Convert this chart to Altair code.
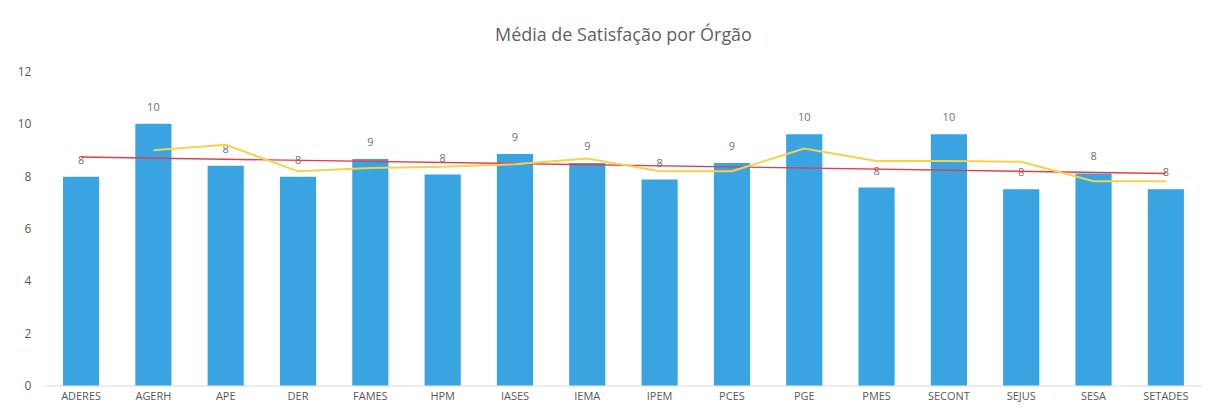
import altair as alt
import pandas as pd

orgs = ["ADERES", "AGERH", "APE", "DER", "FAMES", "HPM", "IASES", "IEMA",
        "IPEM", "PCES", "PGE", "PMES", "SECONT", "SEJUS", "SESA", "SETADES"]
values = [7.97, 10.0, 8.39, 7.97, 8.65, 8.06, 8.84, 8.5,
          7.87, 8.5, 9.6, 7.56, 9.6, 7.5, 8.1, 7.5]
y_ticks = [0, 2, 4, 6, 8, 10, 12]
title_text = "Média de Satisfação por Órgão"

df = pd.DataFrame({"org": orgs, "value": values, "idx": list(range(len(orgs)))})

FONT = "Open Sans"
GRAY = "#595959"

x_enc = alt.X("org:N", sort=orgs,
              scale=alt.Scale(paddingInner=0.5, paddingOuter=0.25),
              axis=alt.Axis(title=None, labelAngle=0, labelFont=FONT, labelFontSize=11,
                            labelColor=GRAY, ticks=False, domainColor="#d9d9d9",
                            labelPadding=5))
y_enc = alt.Y("value:Q", scale=alt.Scale(domain=[0, 12], nice=False),
              axis=alt.Axis(title=None, values=y_ticks, grid=False, domain=False,
                            ticks=False, labelFont=FONT, labelFontSize=12,
                            labelColor=GRAY, labelPadding=14))

base = alt.Chart(df)

bars = base.mark_bar(color="#3AA3E1").encode(x=x_enc, y=y_enc)

labels = base.mark_text(dy=-16, font=FONT, fontSize=11, color="#6f6f6f").encode(
    x=alt.X("org:N", sort=orgs), y="value:Q", text=alt.Text("value:Q", format=".0f"))

trend = base.transform_regression("idx", "value").transform_lookup(
    lookup="idx", from_=alt.LookupData(data=df, key="idx", fields=["org"])
).mark_line(color="#E0404A", strokeWidth=1.4).encode(
    x=alt.X("org:N", sort=orgs), y="value:Q")

ma = base.transform_window(
    ma="mean(value)", frame=[-1, 0], sort=[alt.SortField("idx")]
).transform_filter("datum.idx >= 1").mark_line(color="#F5D24A", strokeWidth=2).encode(
    x=alt.X("org:N", sort=orgs), y="ma:Q")

chart = alt.layer(bars, labels, trend, ma).properties(
    width=1160, height=315,
    autosize=alt.AutoSizeParams(type="none"),
    padding={"left": 37, "top": 63, "right": 0, "bottom": 16},
    title=alt.TitleParams(title_text, font=FONT, fontSize=18, fontWeight="normal",
                          color="#5f5f5f", anchor="middle", offset=20),
).configure_view(stroke=None)

chart.save("out.html", embed_options={"renderer": "svg", "actions": False})
